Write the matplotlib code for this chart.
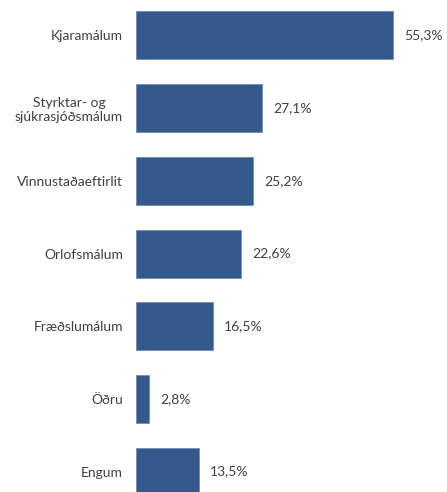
import matplotlib.pyplot as plt

categories = ['Kjaramálum', 'Styrktar- og\nsjúkrasjóðsmálum', 'Vinnustaðaeftirlit',
              'Orlofsmálum', 'Fræðslumálum', 'Öðru', 'Engum']
values = [55.3, 27.1, 25.2, 22.6, 16.5, 2.8, 13.5]
value_labels = ['55,3%', '27,1%', '25,2%', '22,6%', '16,5%', '2,8%', '13,5%']

plt.rcParams['font.family'] = ['Lato', 'DejaVu Sans']

fig = plt.figure(figsize=(4.47, 4.92), dpi=100)
ax = fig.add_axes([136.3 / 447, 0, 302 / 447, 1])

pos = list(range(len(categories)))
ax.barh(pos, values, height=0.66, color='#34598a', edgecolor='#6f8db5', linewidth=0.6)

for p, v, lab in zip(pos, values, value_labels):
    ax.annotate(lab, (v, p), xytext=(8, 0), textcoords='offset points',
                va='center', ha='left', fontsize=10, color='#404040')

ax.set_xlim(0, 302 / 4.648)
ax.set_ylim(6.28, -0.488)
ax.set_yticks(pos)
ax.set_yticklabels(categories, multialignment='center', fontsize=10, color='#404040')
ax.tick_params(axis='y', length=0, pad=9.5)
ax.set_xticks([])
for s in ax.spines.values():
    s.set_visible(False)

plt.savefig('out.png', dpi=100)
